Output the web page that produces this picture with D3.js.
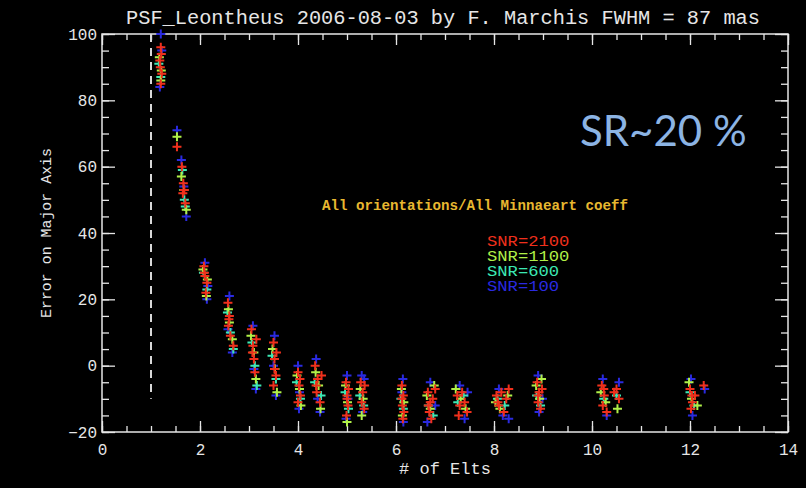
<!DOCTYPE html>
<html>
<head>
<meta charset="utf-8">
<script src="https://cdn.jsdelivr.net/npm/d3@7"></script>
<style>
  body { margin: 0; background: #000; }
  svg { display: block; }
</style>
</head>
<body>
<div id="chart"></div>
<script>
// chart values
var titleText = "PSF_Leontheus 2006-08-03 by F. Marchis FWHM = 87 mas";
var xMajorTicks = [0, 2, 4, 6, 8, 10, 12, 14];
var yMajorTicks = [-20, 0, 20, 40, 60, 80, 100];
var cutoffX = 1;
var cutoffRange = [-10, 100];

// [# of Elts, error on major axis]
var snr2100 = [
  [1.2,96],[1.18,92],[1.22,88],[1.2,85],[1.19,90],[1.21,94],
  [1.53,66],[1.63,60],[1.66,55],[1.65,52],[1.7,49],[1.68,53],
  [2.08,30],[2.1,27],[2.14,25],[2.12,22],[2.09,28],
  [2.57,19],[2.6,15],[2.58,12],[2.62,9],[2.68,6],[2.59,14],
  [3.05,11],[3.08,6],[3.1,2],[3.12,-2],[3.15,8],[3.07,4],
  [3.5,7],[3.52,2],[3.55,-3],[3.5,-6],[3.56,4],[3.52,-1],
  [4.0,-2],[4.02,-6],[4.05,-9],[4.0,-11],[4.04,-4],
  [4.35,0],[4.4,-4],[4.38,-8],[4.45,-11],[4.48,-3],[4.37,-6],
  [4.98,-5],[5.0,-9],[5.02,-12],[4.99,-15],[5.03,-7],[5.0,-10],
  [5.28,-5],[5.32,-8],[5.3,-11],[5.35,-13],[5.36,-6],
  [6.12,-6],[6.15,-9],[6.13,-12],[6.16,-14],[6.14,-16],[6.12,-10],
  [6.65,-8],[6.7,-11],[6.68,-14],[6.75,-10],[6.8,-7],[6.72,-16],[6.66,-12],
  [7.25,-9],[7.3,-12],[7.35,-8],[7.4,-11],[7.45,-14],[7.28,-15],
  [8.05,-9],[8.1,-12],[8.15,-8],[8.2,-14],[8.25,-10],[8.3,-7],[8.08,-11],
  [8.88,-5],[8.92,-8],[8.9,-11],[8.95,-13],[8.98,-7],[8.9,-9],
  [10.2,-6],[10.25,-9],[10.22,-12],[10.3,-14],[10.5,-7],[10.55,-10],[10.45,-8],[10.24,-7],
  [12.0,-7],[12.05,-11],[12.02,-13],[12.1,-9],[12.28,-6],[12.04,-9]
];
var snr1100 = [
  [1.17,93],[1.21,89],[1.2,86],
  [1.53,69],[1.62,57],[1.67,53],[1.72,47],
  [2.06,29],[2.15,26],[2.13,21],
  [2.58,17],[2.6,13],[2.66,8],
  [3.04,9],[3.1,4],[3.14,-4],
  [3.48,5],[3.53,-1],[3.57,-8],
  [3.98,-3],[4.03,-7],[4.06,-12],
  [4.36,-2],[4.42,-6],[4.46,-13],
  [4.97,-6],[5.01,-11],[5.0,-17],
  [5.27,-7],[5.33,-10],[5.3,-15],
  [6.11,-7],[6.16,-11],[6.13,-15],
  [6.63,-9],[6.7,-13],[6.78,-6],
  [7.22,-7],[7.32,-10],[7.42,-13],
  [8.03,-11],[8.12,-13],[8.28,-9],
  [8.86,-6],[8.93,-10],[8.97,-4],
  [10.18,-8],[10.28,-11],[10.52,-13],
  [11.98,-5],[12.03,-10],[12.15,-12]
];
var snr600 = [
  [1.16,91],[1.2,87],
  [1.64,59],[1.68,50],[1.7,48],
  [2.07,28],[2.14,23],
  [2.56,16],[2.62,10],[2.68,5],
  [3.06,7],[3.12,0],[3.16,-6],
  [3.47,3],[3.55,-4],
  [3.97,-5],[4.05,-10],
  [4.34,-5],[4.47,-9],
  [4.96,-8],[5.03,-13],
  [5.26,-9],[5.34,-12],
  [6.1,-10],[6.15,-13],
  [6.66,-12],[6.76,-15],
  [7.26,-11],[7.38,-9],
  [8.07,-10],[8.22,-12],
  [8.87,-9],[8.95,-12],
  [10.24,-10],[10.5,-9],
  [12.0,-8],[12.08,-12]
];
var snr100 = [
  [1.2,100],[1.22,95],[1.18,84],
  [1.53,71],[1.62,62],[1.67,54],[1.72,45],
  [2.1,31],[2.16,24],[2.14,20],
  [2.6,21],[2.57,11],[2.66,4],
  [3.08,12],[3.1,-1],[3.14,-7],
  [3.52,9],[3.5,0],[3.55,-9],
  [4.0,0],[4.03,-8],[4.02,-13],
  [4.37,2],[4.4,-10],[4.45,-14],
  [5.0,-3],[5.02,-10],[4.98,-16],
  [5.3,-3],[5.35,-4],[5.32,-14],
  [6.14,-4],[6.12,-8],[6.15,-17],
  [6.7,-5],[6.64,-17],[6.8,-12],
  [7.3,-6],[7.4,-16],[7.46,-8],
  [8.1,-7],[8.18,-15],[8.3,-16],
  [8.9,-3],[8.92,-14],[8.99,-10],
  [10.22,-4],[10.3,-15],[10.55,-5],
  [12.02,-4],[12.05,-15],[12.3,-7]
];

var seriesNames = ["SNR=2100", "SNR=1100", "SNR=600", "SNR=100"];
var seriesColors = ["#f0301c", "#b0f048", "#3ce8b4", "#2a2ae0"];
var seriesData = [snr2100, snr1100, snr600, snr100];

var width = 806, height = 488;
var margin = {top: 34, right: 18, bottom: 56, left: 102};
var plotW = width - margin.left - margin.right;
var plotH = height - margin.top - margin.bottom;

var svg = d3.select("#chart").append("svg")
    .attr("width", width)
    .attr("height", height)
    .style("background", "#000");

var x = d3.scaleLinear().domain([0, 14]).range([0, plotW]);
var y = d3.scaleLinear().domain([-20, 100]).range([plotH, 0]);

var g = svg.append("g")
    .attr("transform", "translate(" + margin.left + "," + margin.top + ")");

var axisColor = "#e6e6e6";
var labelFont = "'Liberation Mono', monospace";

//minor ticks first, then major ticks with labels, on all four sides
var xMinor = d3.range(0, 14.001, 0.5);
var yMinor = d3.range(-20, 100.001, 5);

function styleAxis(sel) {
    sel.select(".domain").remove();
    sel.selectAll("line").attr("stroke", axisColor).attr("stroke-width", 1.3);
    sel.selectAll("text").attr("fill", axisColor)
        .style("font-family", labelFont).style("font-size", "16px");
}

function minusSign(d) {
    return d < 0 ? "\u2212" + Math.abs(d) : String(d);
}

g.append("g").attr("transform", "translate(0," + plotH + ")")
    .call(d3.axisBottom(x).tickValues(xMinor).tickSize(-6).tickFormat(""))
    .call(styleAxis);
g.append("g").attr("transform", "translate(0," + plotH + ")")
    .call(d3.axisBottom(x).tickValues(xMajorTicks).tickSize(-11).tickPadding(12).tickFormat(d3.format("d")))
    .call(styleAxis);
g.append("g")
    .call(d3.axisTop(x).tickValues(xMinor).tickSize(-6).tickFormat(""))
    .call(styleAxis);
g.append("g")
    .call(d3.axisTop(x).tickValues(xMajorTicks).tickSize(-11).tickFormat(""))
    .call(styleAxis);

g.append("g")
    .call(d3.axisLeft(y).tickValues(yMinor).tickSize(-7).tickFormat(""))
    .call(styleAxis);
g.append("g")
    .call(d3.axisLeft(y).tickValues(yMajorTicks).tickSize(-13).tickPadding(5).tickFormat(minusSign))
    .call(styleAxis);
g.append("g").attr("transform", "translate(" + plotW + ",0)")
    .call(d3.axisRight(y).tickValues(yMinor).tickSize(-7).tickFormat(""))
    .call(styleAxis);
g.append("g").attr("transform", "translate(" + plotW + ",0)")
    .call(d3.axisRight(y).tickValues(yMajorTicks).tickSize(-13).tickFormat(""))
    .call(styleAxis);

//frame
g.append("rect")
    .attr("width", plotW).attr("height", plotH)
    .attr("fill", "none").attr("stroke", axisColor).attr("stroke-width", 1.5);

//dashed cutoff line
g.append("line")
    .attr("x1", x(cutoffX)).attr("x2", x(cutoffX))
    .attr("y1", y(cutoffRange[1])).attr("y2", y(cutoffRange[0]))
    .attr("stroke", "#d8d8d8").attr("stroke-width", 2)
    .attr("stroke-dasharray", "8,6");

//plus markers, blue first so red ends on top
var half = 4.5;
for (var s = seriesData.length - 1; s >= 0; s--) {
    g.append("g").selectAll("path")
        .data(seriesData[s])
        .enter().append("path")
        .attr("d", function(d){
            var px = x(d[0]), py = y(d[1]);
            return "M" + (px - half) + "," + py + "H" + (px + half) +
                   "M" + px + "," + (py - half) + "V" + (py + half);
        })
        .attr("stroke", seriesColors[s])
        .attr("stroke-width", 2)
        .attr("fill", "none");
}

//title
svg.append("text")
    .attr("x", 443).attr("y", 24)
    .attr("text-anchor", "middle")
    .attr("fill", axisColor)
    .attr("textLength", 634).attr("lengthAdjust", "spacingAndGlyphs")
    .style("font-family", labelFont).style("font-size", "20px")
    .text(titleText);

//axis titles
svg.append("text")
    .attr("x", margin.left + plotW / 2).attr("y", 474)
    .attr("text-anchor", "middle")
    .attr("fill", axisColor)
    .style("font-family", labelFont).style("font-size", "17px")
    .text("# of Elts");

svg.append("text")
    .attr("transform", "translate(51," + (margin.top + plotH / 2) + ") rotate(-90)")
    .attr("text-anchor", "middle")
    .attr("fill", axisColor)
    .attr("textLength", 170).attr("lengthAdjust", "spacingAndGlyphs")
    .style("font-family", labelFont).style("font-size", "15px")
    .text("Error on Major Axis");

//annotation
svg.append("text")
    .attr("x", 475).attr("y", 210)
    .attr("text-anchor", "middle")
    .attr("fill", "#e8b830")
    .attr("textLength", 306).attr("lengthAdjust", "spacingAndGlyphs")
    .style("font-family", labelFont).style("font-size", "14px")
    .style("font-weight", "bold")
    .text("All orientations/All Minnaeart coeff");

//legend, stretched sideways to the reference width
var legend = svg.append("g").attr("transform", "translate(487,246)");
legend.selectAll("text")
    .data(seriesNames)
    .enter().append("text")
    .attr("x", 0)
    .attr("y", function(d, i){ return i * 15; })
    .attr("fill", function(d, i){ return seriesColors[i]; })
    .attr("textLength", function(d){ return d.length * 10.3; })
    .attr("lengthAdjust", "spacingAndGlyphs")
    .style("font-family", labelFont).style("font-size", "14px")
    .text(function(d){ return d; });

//Strehl ratio note
svg.append("text")
    .attr("x", 580).attr("y", 146)
    .attr("fill", "#8cb4e4")
    .style("font-family", "Lato, 'Open Sans', sans-serif").style("font-size", "42px")
    .text("SR~20 %");
</script>
</body>
</html>
